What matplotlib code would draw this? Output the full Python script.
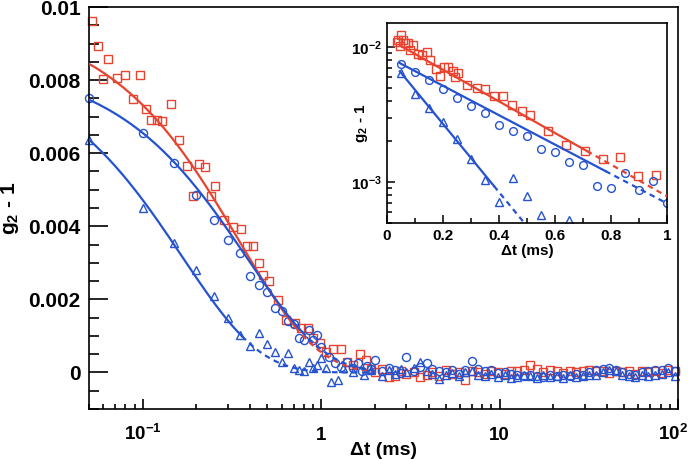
import numpy as np
import matplotlib
matplotlib.use('Agg')
import matplotlib.pyplot as plt
from matplotlib.ticker import MultipleLocator, LogLocator, FixedLocator, FuncFormatter, NullFormatter
from matplotlib.transforms import ScaledTranslation

plt.rcParams['font.family'] = 'Liberation Sans'
plt.rcParams['font.weight'] = 'bold'
plt.rcParams['mathtext.fontset'] = 'custom'
plt.rcParams['mathtext.rm'] = 'Liberation Sans:bold'
plt.rcParams['mathtext.it'] = 'Liberation Sans:bold'
plt.rcParams['mathtext.bf'] = 'Liberation Sans:bold'

RED = '#e8432e'
BLUE = '#2553cf'

### data (g2 - 1 in units of 1e-3, t in ms)
sq_t = [0.052, 0.056, 0.060, 0.064, 0.072, 0.080, 0.088, 0.096, 0.104, 0.111, 0.120, 0.128,
        0.144, 0.159, 0.176, 0.192, 0.207, 0.224, 0.240, 0.254, 0.286, 0.319, 0.356, 0.383,
        0.417, 0.451, 0.474, 0.513, 0.575, 0.635, 0.714, 0.769, 0.849, 0.906, 0.980, 1.067,
        1.17, 1.29, 1.39, 1.50, 1.66, 1.79, 1.90, 2.00]
sq_v = [9.63, 8.93, 8.03, 8.58, 8.06, 8.13, 7.49, 8.14, 7.22, 6.92, 6.92, 6.88,
        7.34, 6.35, 5.66, 4.84, 5.70, 5.61, 4.82, 5.09, 4.18, 3.98, 3.93, 3.45,
        3.45, 2.99, 2.67, 2.49, 1.97, 1.44, 1.35, 1.21, 1.21, 0.94, 0.80, 0.57,
        0.63, 0.63, 0.30, 0.20, 0.50, 0.34, 0.10, 0.02]

ci_t = [0.05, 0.10, 0.15, 0.20, 0.25, 0.30, 0.35, 0.40, 0.45, 0.50, 0.55, 0.60, 0.65, 0.70,
        0.75, 0.80, 0.85, 0.90, 0.95, 1.0, 1.1, 1.2, 1.3, 1.4, 1.5, 1.6, 1.7, 1.8, 1.9, 2.0]
ci_v = [7.50, 6.55, 5.73, 4.86, 4.17, 3.63, 3.27, 2.65, 2.38, 2.20, 1.77, 1.68, 1.40, 1.33,
        0.93, 0.90, 1.16, 0.88, 1.02, 0.70, 0.43, 0.25, 0.16, 0.30, 0.12, 0.25, 0.05, 0.18, 0.10, 0.34]

tr_t = [0.05, 0.10, 0.15, 0.20, 0.25, 0.30, 0.35, 0.40, 0.45, 0.50, 0.55, 0.60, 0.65, 0.70,
        0.75, 0.80, 0.85, 0.90, 0.95, 1.0, 1.07, 1.14, 1.25, 1.33, 1.5, 1.73, 1.9]
tr_v = [6.37, 4.50, 3.55, 2.80, 2.10, 1.48, 1.03, 0.72, 1.07, 0.79, 0.57, 0.30, 0.53, 0.11,
        0.08, 0.05, 0.30, 0.11, 0.20, 0.39, 0.11, -0.27, -0.20, 0.11, 0.02, -0.07, 0.06]

# long-time baseline, same lag times for all three runs
base_t = [2.2, 2.4, 2.6, 2.8, 3.0, 3.3, 3.6, 3.9, 4.2, 4.6, 5.0, 5.4, 5.9, 6.4, 7.0, 7.6,
          8.3, 9.0, 9.8, 10.7, 11.6, 12.6, 13.7, 14.9, 16.2, 17.6, 19.2, 20.9, 22.7, 24.7,
          26.9, 29.3, 31.9, 34.7, 37.8, 41.1, 44.7, 48.7, 53.0, 57.7, 62.8, 68.3, 74.3,
          80.9, 88.0, 95.8]
base_sq = [0.10, -0.13, -0.11, 0.05, -0.05, 0.02, -0.12, -0.08, 0.00, -0.10, 0.08, -0.05,
           0.02, -0.20, 0.05, 0.02, -0.03, 0.04, 0.00, -0.03, 0.05, 0.03, 0.08, 0.20, 0.10,
           0.02, 0.06, 0.03, -0.02, 0.05, 0.00, 0.04, 0.06, 0.03, 0.05, -0.02, 0.04, 0.02,
           0.05, -0.03, 0.04, 0.02, 0.05, -0.02, 0.06, 0.03]
base_ci = [0.05, 0.12, 0.08, -0.02, 0.42, 0.05, 0.15, 0.27, 0.10, 0.05, 0.00, 0.06,
           -0.04, 0.08, 0.32, 0.10, 0.05, 0.08, -0.02, 0.00, -0.05, -0.08, -0.10, -0.06,
           -0.10, -0.12, -0.08, -0.10, -0.06, -0.10, -0.04, -0.06, 0.02, 0.06, 0.10, 0.12,
           0.08, 0.02, -0.04, -0.06, 0.00, 0.03, 0.06, 0.08, 0.12, 0.05]
base_tr = [-0.10, 0.08, -0.05, 0.10, 0.02, 0.12, 0.30, 0.05, -0.05, -0.19, -0.08, -0.02,
           -0.10, 0.00, 0.05, -0.06, -0.10, -0.04, -0.12, -0.08, -0.14, -0.12, -0.06, -0.10,
           -0.14, -0.08, -0.12, -0.10, -0.14, -0.08, -0.12, -0.10, -0.06, -0.08, 0.02, 0.06,
           0.04, -0.06, -0.10, -0.12, -0.08, -0.10, -0.06, -0.04, 0.02, -0.10]

# inset red run
in_sq_t = [0.035, 0.040, 0.046, 0.049, 0.058, 0.064, 0.076, 0.082, 0.094, 0.112, 0.124, 0.142,
           0.154, 0.175, 0.189, 0.204, 0.219, 0.237, 0.243, 0.255, 0.285, 0.320, 0.350, 0.382,
           0.413, 0.445, 0.481, 0.511, 0.576, 0.640, 0.707, 0.770, 0.833, 0.895, 0.961]
in_sq_v = [10.9, 11.3, 10.1, 12.2, 11.2, 10.6, 10.7, 9.45, 10.3, 8.9, 8.7, 9.2,
           8.0, 6.9, 6.1, 7.1, 7.1, 6.6, 6.0, 6.4, 5.2, 5.0, 4.9, 4.3,
           4.3, 3.7, 3.33, 3.15, 2.41, 1.89, 1.69, 1.49, 1.54, 1.11, 1.14]

# exponential fits: amplitude, rate (1/ms), end of fit range (ms)
fit_main = {'sq': (9.75e-3, 2.87, 0.72), 'ci': (8.5e-3, 2.6, 0.78), 'tr': (8.6e-3, 6.0, 0.36)}
fit_inset = {'sq': (11.6e-3, 2.69, 0.714), 'ci': (8.5e-3, 2.5, 0.78), 'tr': (8.6e-3, 5.8, 0.382)}

sc = 1e-3
all_sq_t = np.array(sq_t + base_t)
all_sq_v = np.array(sq_v + base_sq) * sc
all_ci_t = np.array(ci_t + base_t)
all_ci_v = np.array(ci_v + base_ci) * sc
all_tr_t = np.array(tr_t + base_t)
all_tr_v = np.array(tr_v + base_tr) * sc

fig = plt.figure(figsize=(6.92, 4.59), dpi=100)
ax = fig.add_axes([0.1286, 0.1089, 0.8512, 0.8758])

mk = dict(ls='none', mfc='none', mew=1.0, zorder=2, clip_on=False)
ax.plot(all_sq_t, all_sq_v, marker='s', ms=5.6, mec=RED, **mk)
ax.plot(all_ci_t, all_ci_v, marker='o', ms=5.8, mec=BLUE, **mk)
ax.plot(all_tr_t, all_tr_v, marker='^', ms=6.2, mec=BLUE, **mk)

def draw_fit(a, key, col, t0, t_end):
    amp, k, t1 = key
    ts = np.linspace(t0, t1, 200)
    a.plot(ts, amp * np.exp(-k * ts), color=col, lw=1.6, zorder=3)
    td = np.linspace(t1, t_end, 200)
    a.plot(td, amp * np.exp(-k * td), color=col, lw=1.6, ls=(0, (2.5, 2)), zorder=3)

draw_fit(ax, fit_main['sq'], RED, 0.05, 2.0)
draw_fit(ax, fit_main['ci'], BLUE, 0.05, 2.0)
draw_fit(ax, fit_main['tr'], BLUE, 0.05, 2.0)

ax.set_xscale('log')
ax.set_xlim(0.05, 100)
ax.set_ylim(-0.001, 0.01)
ax.yaxis.set_major_locator(MultipleLocator(0.002))
ax.yaxis.set_minor_locator(MultipleLocator(0.0005))
ax.yaxis.set_major_formatter(FuncFormatter(lambda v, p: '0' if abs(v) < 1e-12 else '%g' % v))
ax.xaxis.set_major_locator(FixedLocator([0.1, 1, 10, 100]))
ax.xaxis.set_minor_locator(LogLocator(base=10, subs=np.arange(2, 10)))
xlab = {0.1: '$10^{-1}$', 1: '1', 10: '10', 100: '$10^{2}$'}
ax.xaxis.set_major_formatter(FuncFormatter(lambda v, p: xlab.get(round(v, 6), '')))
ax.xaxis.set_minor_formatter(NullFormatter())
ax.tick_params(axis='y', which='major', direction='in', length=14, width=1.2, labelsize=15, pad=6)
ax.tick_params(axis='y', which='minor', direction='in', length=7, width=1.2)
ax.tick_params(axis='x', which='major', direction='in', length=7, width=1.2, labelsize=13.5, pad=22)
ax.tick_params(axis='x', which='minor', direction='in', length=3.6, width=1.2)
for s in ax.spines.values():
    s.set_linewidth(1.2)
ax.set_xlabel('Δt (ms)', fontsize=14, fontweight='bold')
ax.xaxis.set_label_coords(0.5, -0.083)
ax.set_ylabel('g$_2$ - 1', fontsize=15, fontweight='bold')
ax.yaxis.set_label_coords(-0.115, 0.5)

fig.canvas.draw()
for lbl in ax.get_xticklabels():
    lbl.set_va('baseline')
    if lbl.get_text() == '$10^{2}$':
        lbl.set_transform(lbl.get_transform() + ScaledTranslation(-4 / 72, 0, fig.dpi_scale_trans))

### inset, linear time, log g2-1
ax2 = fig.add_axes([0.5592, 0.5142, 0.4047, 0.4357])
ax2.set_facecolor('white')
mk2 = dict(ls='none', mfc='none', mew=1.0, zorder=2)
ax2.plot(in_sq_t, np.array(in_sq_v) * sc, marker='s', ms=6, mec=RED, **mk2)
ax2.plot(ci_t, np.array(ci_v) * sc, marker='o', ms=5.6, mec=BLUE, **mk2)
ax2.plot(tr_t, np.array(tr_v) * sc, marker='^', ms=6, mec=BLUE, **mk2)
draw_fit(ax2, fit_inset['sq'], RED, 0.046, 1.0)
draw_fit(ax2, fit_inset['ci'], BLUE, 0.046, 1.0)
draw_fit(ax2, fit_inset['tr'], BLUE, 0.046, 0.6)
ax2.set_yscale('log')
ax2.set_xlim(0, 1)
ax2.set_ylim(5e-4, 0.015)
ax2.xaxis.set_major_locator(MultipleLocator(0.2))
ax2.xaxis.set_minor_locator(MultipleLocator(0.1))
ax2.xaxis.set_major_formatter(FuncFormatter(lambda v, p: '%g' % round(v, 2)))
ax2.yaxis.set_major_locator(LogLocator(base=10))
ax2.yaxis.set_minor_locator(LogLocator(base=10, subs=np.arange(2, 10)))
ylab2 = {-3: '$10^{-3}$', -2: '$10^{-2}$'}
ax2.yaxis.set_major_formatter(FuncFormatter(lambda v, p: ylab2.get(int(round(np.log10(v))), '')))
ax2.yaxis.set_minor_formatter(NullFormatter())
ax2.tick_params(which='major', direction='in', length=6, width=1.1, labelsize=11, pad=4)
ax2.tick_params(which='minor', direction='in', length=3.5, width=1.1)
for s in ax2.spines.values():
    s.set_linewidth(1.2)
ax2.set_xlabel('Δt (ms)', fontsize=11, fontweight='bold', labelpad=1)
ax2.set_ylabel('g$_2$ - 1', fontsize=11, fontweight='bold')
ax2.yaxis.set_label_coords(-0.06, 0.5)

plt.savefig('out.png', dpi=100)
